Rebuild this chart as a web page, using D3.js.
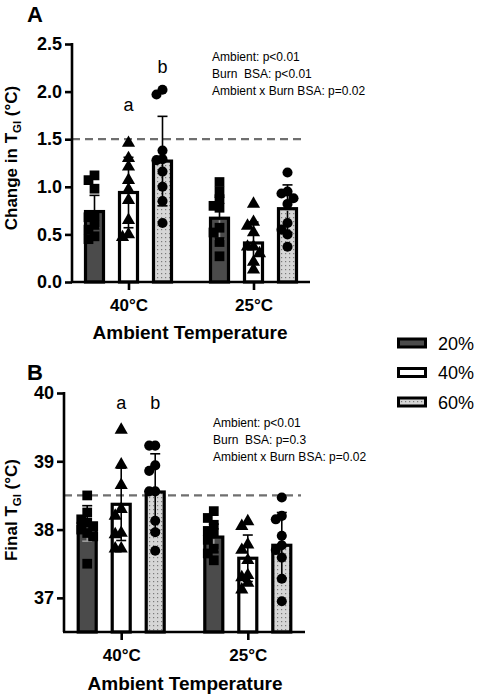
<!DOCTYPE html>
<html>
<head>
<meta charset="utf-8">
<script src="https://cdn.jsdelivr.net/npm/d3@7"></script>
<style>
  html, body { margin: 0; padding: 0; background: #fff; }
  svg { display: block; font-family: "Liberation Sans", Arial, sans-serif; }
</style>
</head>
<body>
<svg id="chart" width="478" height="696"></svg>
<script>
// ---------------- DATA ----------------
const groups = ["40°C", "25°C"];
const series = ["20%", "40%", "60%"];

// Panel A: Change in T_GI (°C)  [group][series]
const changeMeans = [[0.74, 0.94, 1.27], [0.67, 0.41, 0.77]];
const changeSD    = [[0.17, 0.37, 0.47], [0.22, 0.22, 0.25]];
const changePts40 = [
  [1.12, 1.07, 0.98, 0.70, 0.68, 0.60, 0.55, 0.48, 0.45],
  [1.46, 1.30, 1.21, 1.07, 0.97, 0.86, 0.65, 0.47, 0.50],
  [2.02, 1.97, 1.38, 1.29, 1.28, 1.16, 1.00, 0.85, 0.62]
];
const changePts25 = [
  [1.05, 0.95, 0.87, 0.80, 0.78, 0.57, 0.52, 0.42, 0.27],
  [0.82, 0.63, 0.59, 0.52, 0.37, 0.37, 0.30, 0.21, 0.13],
  [1.15, 0.95, 0.93, 0.88, 0.82, 0.62, 0.55, 0.50, 0.37]
];
const changeTicks = [0, 0.5, 1.0, 1.5, 2.0, 2.5];
const changeRef = 1.5;
const changeLetters = [["", "a", "b"], ["", "", ""]];
const changeStats = ["Ambient: p<0.01", "Burn  BSA: p<0.01", "Ambient x Burn BSA: p=0.02"];

// Panel B: Final T_GI (°C)
const finalMeans = [[38.09, 38.37, 38.55], [37.89, 37.58, 37.77]];
const finalSD    = [[0.26, 0.53, 0.56], [0.19, 0.34, 0.48]];
const finalPts40 = [
  [38.50, 38.25, 38.15, 38.10, 38.05, 38.00, 37.95, 37.90, 37.50],
  [39.46, 38.95, 38.65, 38.30, 38.20, 37.95, 37.93, 37.72, 37.72],
  [39.23, 39.23, 38.94, 38.86, 38.56, 38.56, 38.13, 37.96, 37.69]
];
const finalPts25 = [
  [38.27, 38.17, 38.07, 37.98, 37.95, 37.85, 37.72, 37.65, 37.55],
  [38.12, 38.05, 37.78, 37.70, 37.55, 37.33, 37.30, 37.22, 37.12],
  [38.47, 38.20, 38.15, 37.91, 37.77, 37.70, 37.59, 37.28, 36.95]
];
const finalTicks = [37, 38, 39, 40];
const finalRef = 38.5;
const finalLetters = [["", "a", "b"], ["", "", ""]];
const finalStats = ["Ambient: p<0.01", "Burn  BSA: p=0.3", "Ambient x Burn BSA: p=0.02"];

// ---------------- STYLE ----------------
const fills = ["#4b4b4b", "#ffffff", "url(#dots)"];
const innerErrColor = ["#9a9a9a", "#000", "#000"];
const symbols = [d3.symbolSquare, d3.symbolTriangle, d3.symbolCircle];
const symSizes = [95, 75, 80];

const svg = d3.select("#chart");
const defs = svg.append("defs");
const pat = defs.append("pattern").attr("id", "dots")
  .attr("patternUnits", "userSpaceOnUse").attr("width", 4).attr("height", 4);
pat.append("rect").attr("width", 4).attr("height", 4).attr("fill", "#d6d6d6");
pat.append("rect").attr("x", 1).attr("y", 1).attr("width", 1.2).attr("height", 1.2).attr("fill", "#7a7a7a");

function swarm(vals, yScale, cx) {
  const idx = vals.map((v, i) => i).sort((a, b) => vals[b] - vals[a]);
  const placed = [];
  const offs = [0, -6, 6, -3, 3, -9, 9];
  const out = new Array(vals.length);
  idx.forEach(i => {
    const py = yScale(vals[i]);
    let chosen = offs[0];
    for (const o of offs) {
      const hit = placed.some(p => Math.abs(p.y - py) < 7 && Math.abs(p.x - o) < 6);
      if (!hit) { chosen = o; break; }
    }
    placed.push({ x: chosen, y: py });
    out[i] = { v: vals[i], x: cx + chosen, y: py };
  });
  return out;
}

function drawPanel(cfg) {
  const g = svg.append("g");
  const y = d3.scaleLinear().domain(cfg.domain).range([cfg.bottom, cfg.top]);
  const x0 = d3.scalePoint().domain(groups).range([cfg.left, cfg.right]).padding(0.452);
  const x1 = d3.scalePoint().domain(series).range([-34, 34]);
  const barW = 18;

  // reference dashed line
  g.append("line")
    .attr("x1", cfg.left).attr("x2", cfg.right - 4)
    .attr("y1", y(cfg.ref)).attr("y2", y(cfg.ref))
    .attr("stroke", "#6f6f6f").attr("stroke-width", 2.2)
    .attr("stroke-dasharray", "8,5");

  groups.forEach((grp, gi) => {
    series.forEach((s, si) => {
      const cx = x0(grp) + x1(s);
      const m = cfg.means[gi][si], sd = cfg.sds[gi][si];
      // bar
      g.append("rect")
        .attr("x", cx - barW / 2).attr("y", y(m))
        .attr("width", barW).attr("height", y(cfg.domain[0]) - y(m))
        .attr("fill", fills[si]).attr("stroke", "#000").attr("stroke-width", 3.2);
      // error bar (upper)
      g.append("line").attr("x1", cx).attr("x2", cx)
        .attr("y1", y(m)).attr("y2", y(m + sd)).attr("stroke", "#000").attr("stroke-width", 1.6);
      g.append("line").attr("x1", cx - 5).attr("x2", cx + 5)
        .attr("y1", y(m + sd)).attr("y2", y(m + sd)).attr("stroke", "#000").attr("stroke-width", 1.6);
      // error bar (lower, inside bar)
      g.append("line").attr("x1", cx).attr("x2", cx)
        .attr("y1", y(m) + 2).attr("y2", y(m - sd)).attr("stroke", innerErrColor[si]).attr("stroke-width", 1.6);
      g.append("line").attr("x1", cx - 5).attr("x2", cx + 5)
        .attr("y1", y(m - sd)).attr("y2", y(m - sd)).attr("stroke", innerErrColor[si]).attr("stroke-width", 1.6);
      // points
      const pts = swarm(cfg.points[gi][si], y, cx);
      g.selectAll(null).data(pts).enter().append("path")
        .attr("transform", d => `translate(${d.x},${d.y})`)
        .attr("d", d3.symbol().type(symbols[si]).size(symSizes[si]))
        .attr("fill", "#000");
      // significance letters
      const L = cfg.letters[gi][si];
      if (L) {
        g.append("text").attr("x", cx).attr("y", cfg.letterY[si])
          .attr("text-anchor", "middle").attr("font-size", 18).attr("fill", "#000").text(L);
      }
    });
  });

  // y axis
  const yAxis = d3.axisLeft(y).tickValues(cfg.ticks).tickFormat(cfg.fmt).tickSize(7).tickSizeOuter(0);
  const ya = g.append("g").attr("transform", `translate(${cfg.left},0)`).call(yAxis);
  ya.select(".domain").attr("stroke", "#000").attr("stroke-width", 2.6)
    .attr("d", `M0,${cfg.top - 1}V${cfg.bottom}`);
  ya.selectAll(".tick line").attr("stroke", "#000").attr("stroke-width", 2.6);
  ya.selectAll(".tick text").attr("font-size", 18).attr("font-weight", "bold").attr("fill", "#000")
    .attr("x", -10).attr("font-family", "Liberation Sans, Arial, sans-serif");

  // x axis
  const xAxis = d3.axisBottom(x0).tickSize(8).tickSizeOuter(0);
  const xa = g.append("g").attr("transform", `translate(0,${cfg.bottom})`).call(xAxis);
  xa.select(".domain").attr("stroke", "#000").attr("stroke-width", 2.6)
    .attr("d", `M${cfg.left - 1},0H${cfg.right}`);
  xa.selectAll(".tick line").attr("stroke", "#000").attr("stroke-width", 2.6);
  xa.selectAll(".tick text").attr("font-size", 17).attr("font-weight", "bold").attr("fill", "#000")
    .attr("y", 17).attr("font-family", "Liberation Sans, Arial, sans-serif");

  // x title
  g.append("text").attr("x", cfg.xTitleX).attr("y", cfg.xTitleY)
    .attr("text-anchor", "middle").attr("font-size", 19).attr("font-weight", "bold")
    .text("Ambient Temperature");

  // y title with subscript
  const yt = g.append("text")
    .attr("transform", `translate(${cfg.yTitleX},${cfg.yTitleY}) rotate(-90)`)
    .attr("text-anchor", "middle").attr("font-size", 17).attr("font-weight", "bold");
  yt.append("tspan").text(cfg.yPre);
  yt.append("tspan").attr("font-size", 11.5).attr("dy", 4).text("GI");
  yt.append("tspan").attr("dy", -4).text(" (°C)");

  // panel letter
  g.append("text").attr("x", cfg.panelX).attr("y", cfg.panelY)
    .attr("font-size", 22).attr("font-weight", "bold").text(cfg.panel);

  // stats
  cfg.stats.forEach((t, i) => {
    g.append("text").attr("x", cfg.statX).attr("y", cfg.statY + i * 17)
      .attr("font-size", 12).attr("fill", "#000")
      .style("white-space", "pre").text(t);
  });
}

drawPanel({
  top: 44, bottom: 282, left: 72, right: 310,
  domain: [0, 2.5], ticks: changeTicks, fmt: d3.format(".1f"),
  means: changeMeans, sds: changeSD, points: [changePts40, changePts25],
  ref: changeRef, letters: changeLetters, letterY: [0, 111, 73],
  xTitleX: 190, xTitleY: 339,
  yTitleX: 17, yTitleY: 158, yPre: "Change in T",
  panel: "A", panelX: 27, panelY: 22,
  stats: changeStats, statX: 212, statY: 61
});

drawPanel({
  top: 393, bottom: 632, left: 64, right: 305,
  domain: [36.5, 40], ticks: finalTicks, fmt: d3.format("d"),
  means: finalMeans, sds: finalSD, points: [finalPts40, finalPts25],
  ref: finalRef, letters: finalLetters, letterY: [0, 409, 409],
  xTitleX: 185, xTitleY: 690,
  yTitleX: 17, yTitleY: 510, yPre: "Final T",
  panel: "B", panelX: 27, panelY: 380,
  stats: finalStats, statX: 213, statY: 427
});

// legend
const legend = svg.append("g");
series.forEach((s, i) => {
  const ly = 343 + i * 29.5;
  legend.append("rect").attr("x", 398.5).attr("y", ly - 4).attr("width", 27).attr("height", 8)
    .attr("fill", fills[i]).attr("stroke", "#000").attr("stroke-width", 3);
  legend.append("text").attr("x", 438).attr("y", ly + 6.5)
    .attr("font-size", 18).attr("fill", "#000").text(s);
});
</script>
</body>
</html>
